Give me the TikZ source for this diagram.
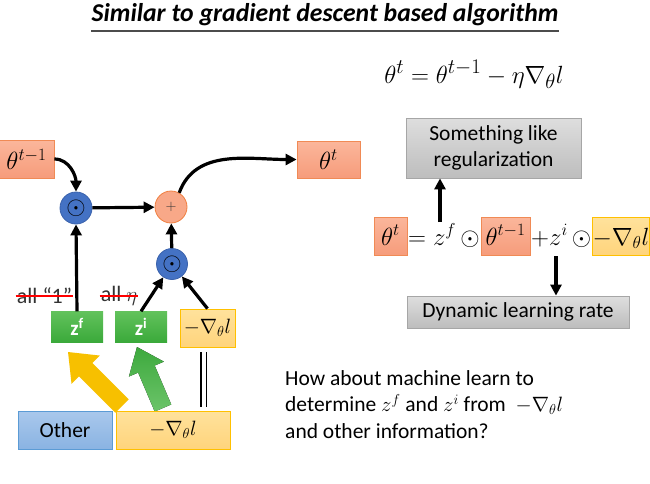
\documentclass[tikz,border=0pt]{standalone}
\usepackage{fontspec}
\setmainfont{Carlito}
\usetikzlibrary{arrows.meta,calc}

\definecolor{salmonT}{HTML}{FBB69B}
\definecolor{salmonB}{HTML}{F69C7B}
\definecolor{salmonE}{HTML}{F08A55}
\definecolor{goldT}{HTML}{FFE29C}
\definecolor{goldB}{HTML}{FFD47C}
\definecolor{goldE}{HTML}{FFC000}
\definecolor{greenT}{HTML}{62C25C}
\definecolor{greenB}{HTML}{3AA93A}
\definecolor{blueT}{HTML}{A9C8EC}
\definecolor{blueB}{HTML}{8AB3E2}
\definecolor{blueE}{HTML}{5B9BD5}
\definecolor{grayT}{HTML}{DEDEDE}
\definecolor{grayB}{HTML}{BDBDBD}
\definecolor{grayE}{HTML}{A6A6A6}
\definecolor{opblue}{HTML}{4472C4}
\definecolor{opblueE}{HTML}{3A62AC}
\definecolor{plusfill}{HTML}{F8A888}
\definecolor{plusE}{HTML}{F07F40}
\definecolor{arrowgold}{HTML}{F7C000}
\definecolor{arrowgreenT}{HTML}{3DA93D}
\definecolor{arrowgreenB}{HTML}{6CC46A}
\definecolor{strikered}{HTML}{FF0000}
\definecolor{textgray}{HTML}{333333}

\newcommand{\bodysize}{\fontsize{21.5}{26.5}\selectfont}

% thick block arrow from #2 (tail) to #3 (tip): shaft half width #4, head half width #5, head length #6
\newcommand{\blockarrow}[7]{%
  \coordinate (#7) at ($(#3)!#6!(#2)$);
  \fill[#1] ($(#2)!#4!90:(#3)$) -- ($(#7)!#4!-90:(#2)$) -- ($(#7)!#5!-90:(#2)$) -- (#3)
     -- ($(#7)!#5!90:(#2)$) -- ($(#7)!#4!90:(#2)$) -- ($(#2)!#4!-90:(#3)$) -- cycle;}

\begin{document}
\begin{tikzpicture}[x=1pt,y=-1pt,
  every node/.style={inner sep=0pt},
  thetabox/.style={draw=salmonE, line width=0.8pt, top color=salmonT, bottom color=salmonB},
  gradbox/.style={draw=goldE, line width=0.8pt, top color=goldT, bottom color=goldB},
  gatebox/.style={top color=greenT, bottom color=greenB, text=white,
    font=\fontsize{21}{21}\selectfont\bfseries, minimum width=52pt, minimum height=31pt},
  notebox/.style={draw=grayE, line width=0.8pt, top color=grayT, bottom color=grayB,
    font=\bodysize, align=center},
  mulop/.style={circle, draw=opblueE, line width=0.8pt, fill=opblue, minimum size=32pt,
    font=\fontsize{25}{25}\selectfont},
  addop/.style={circle, draw=plusE, line width=0.8pt, fill=plusfill, minimum size=32pt,
    font=\fontsize{14}{14}\selectfont, text=textgray},
  flow/.style={line width=3.2pt, -{Triangle[length=11pt,width=11pt]}},
  crossed/.style={font=\fontsize{22}{22}\selectfont, text=textgray},
  strikeout/.style={strikered, line width=2.8pt},
  roweq/.style={font=\fontsize{23}{23}\selectfont, anchor=base},
]
\useasboundingbox (0,0) rectangle (650,483);

% heading
\node[font=\fontsize{25.7}{25.7}\selectfont\bfseries\itshape, anchor=base] (title) at (325,21)
  {Similar to gradient descent based algorithm};
\draw[line width=1.3pt, black!70] ($(title.base west)+(0,10)$) -- ($(title.base east)+(0,10)$);

% plain update rule
\node[font=\fontsize{27.5}{27.5}\selectfont, anchor=base] (rule) at (474,83)
  {$\theta^t=\theta^{t-1}-\eta\nabla_\theta l$};

% ---------- left: gated update ----------
\coordinate (ytail) at (122,406);
\coordinate (ytip) at (68,352);
\coordinate (gtail) at (163,408);
\coordinate (gtip) at (137,347);
\blockarrow{arrowgold}{ytail}{ytip}{9.5pt}{20pt}{25pt}{yhead}
\blockarrow{top color=arrowgreenT, bottom color=arrowgreenB}{gtail}{gtip}{9pt}{19pt}{24pt}{ghead}

\node[thetabox, minimum width=55pt, minimum height=38pt, font=\fontsize{24}{24}\selectfont]
  (thprev) at (26.5,159) {$\theta^{t-1}$};
\node[thetabox, minimum width=63pt, minimum height=37pt, font=\fontsize{24}{24}\selectfont]
  (thnext) at (328.5,159.5) {$\theta^{t}$};
\node[mulop] (forget) at (76,208) {$\odot$};
\node[addop] (sum) at (171,207) {$+$};
\node[mulop, minimum size=31pt] (input) at (172,264) {$\odot$};

\node[gatebox] (zf) at (77,327) {z\textsuperscript{f}};
\node[gatebox] (zi) at (141,327) {z\textsuperscript{i}};
\node[gradbox, minimum width=55pt, minimum height=38pt, font=\fontsize{22.5}{22.5}\selectfont]
  (gradA) at (207.5,328) {$-\nabla_\theta l$};

\node[draw=blueE, line width=0.8pt, top color=blueT, bottom color=blueB,
  minimum width=94pt, minimum height=38pt, font=\bodysize] (other) at (65,430) {Other};
\node[gradbox, minimum width=114pt, minimum height=38pt, font=\fontsize{21}{21}\selectfont]
  (gradB) at (173,430) {$-\nabla_\theta l$};

\node[crossed] (oneslbl) at (44.5,296) {all “1”};
\draw[strikeout] ($(oneslbl.west)+(-1,0)$) -- ($(oneslbl.east)+(1,0)$);
\node[crossed] (etalbl) at (119,296) {all $\eta$};
\draw[strikeout] ($(etalbl.west)+(-1,0)$) -- ($(etalbl.east)+(1,0)$);

\draw[flow] (thprev.east) to[out=0, in=90] (forget.north);
\draw[flow] (forget) -- (sum);
\draw[flow] (sum.60) to[out=70, in=180] (thnext.west);
\draw[flow] (zf.north) -- (forget.south);
\draw[flow] (input) -- (sum);
\draw[flow] (zi.north) -- (input);
\draw[flow] (gradA.north) -- (input);
\draw[double, double distance=4pt, line width=1.4pt, shorten <=5pt, shorten >=4pt]
  ([xshift=-4pt]gradA.south) -- ([xshift=-4pt]gradA.south |- gradB.north);

% ---------- right: reading of the gated rule ----------
\node[notebox, minimum width=175pt, minimum height=60pt] (reg) at (493.5,148)
  {Something like\\regularization};
\node[notebox, minimum width=222pt, minimum height=32pt] (dyn) at (518,312)
  {Dynamic learning rate};

\node[thetabox, roweq, minimum width=33pt, text height=25pt, text depth=7pt, inner ysep=3pt]
  (thR) at (390.5,245) {$\theta^t$};
\node[roweq, anchor=base west] (eqfg) at (408,245) {$=z^{f}\,\odot$};
\node[thetabox, roweq, minimum width=49pt, text height=25pt, text depth=7pt, inner ysep=3pt]
  (thRprev) at (505.5,245) {$\theta^{t-1}$};
\node[roweq, anchor=base west] (eqig) at (531,245) {$+z^{i}\,\odot$};
\node[gradbox, roweq, minimum width=54pt, text height=25pt, text depth=7pt, inner ysep=3pt]
  (gradR) at (621,245) {$-\nabla_\theta l$};

\coordinate (upfoot) at (440,222);
\coordinate (downfoot) at (556,256);
\draw[flow] (upfoot) -- (upfoot |- reg.south);
\draw[flow] (downfoot) -- (downfoot |- dyn.north);

% question
\node[font=\bodysize, align=left, anchor=north west] (question) at (285,370)
  {How about machine learn to\\
   determine $z^f$ and $z^i$ from\ \ $-\nabla_\theta l$\\
   and other information?};
\end{tikzpicture}
\end{document}
